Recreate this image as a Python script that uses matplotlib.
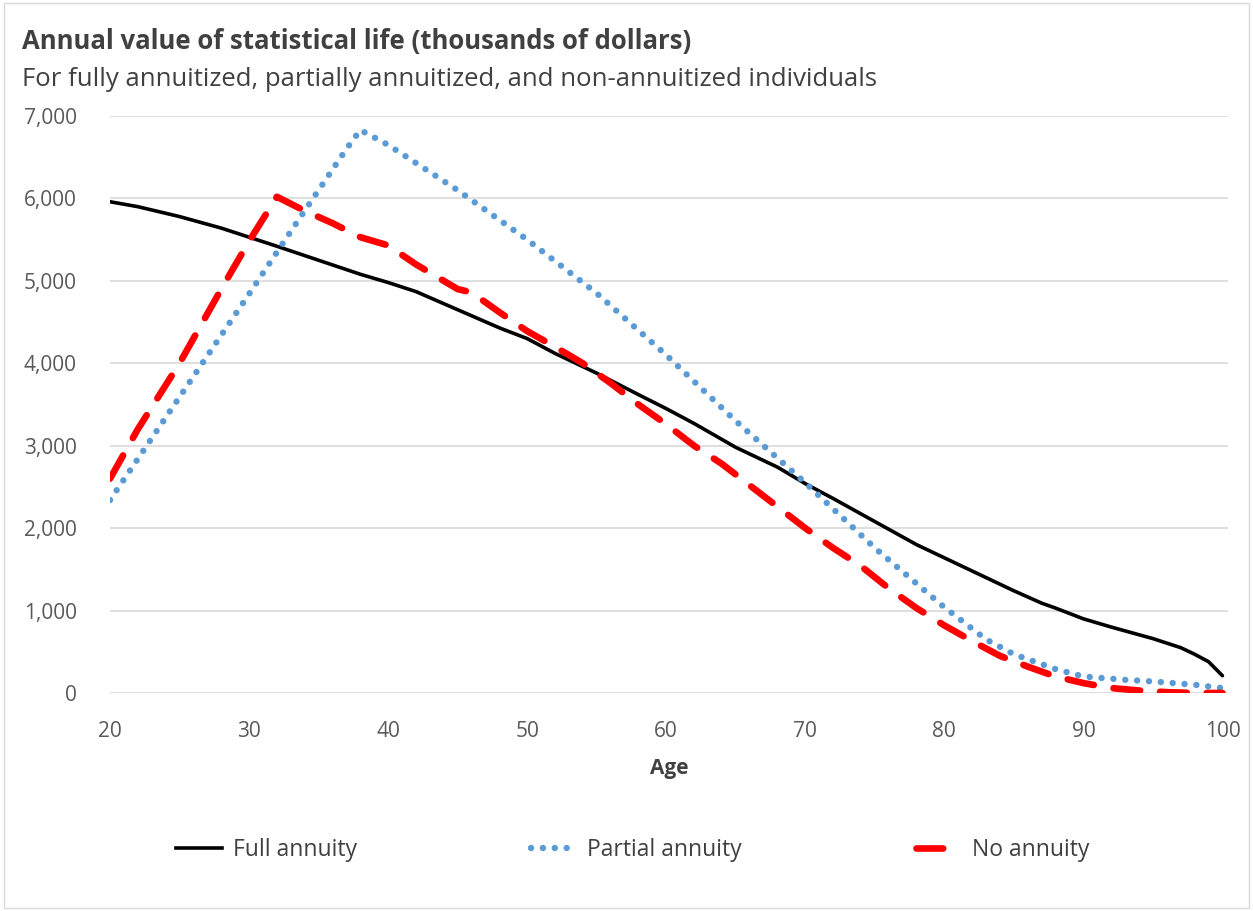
import matplotlib
matplotlib.use("Agg")
from matplotlib import pyplot as plt
from matplotlib.lines import Line2D

# data (thousands of dollars)
full_age = [20, 22, 25, 28, 30, 32, 35, 38, 40, 42, 45, 48, 50, 52, 55, 58, 60, 62, 65, 68, 70,
            72, 75, 78, 80, 82, 85, 87, 88, 90, 92, 95, 97, 98, 99, 100]
full_val = [5960, 5900, 5780, 5640, 5530, 5420, 5250, 5080, 4980, 4870, 4650, 4430, 4300, 4120,
            3880, 3620, 3450, 3270, 2980, 2740, 2540, 2360, 2080, 1800, 1640, 1480, 1240, 1090,
            1030, 900, 800, 660, 550, 470, 380, 210]

partial_age = [20, 25, 30, 33, 35, 37, 38, 40, 45, 50, 55, 60, 65, 70, 75, 80, 83, 85, 88, 90,
               93, 95, 98, 100]
partial_val = [2340, 3590, 4840, 5600, 6100, 6600, 6830, 6650, 6100, 5500, 4850, 4100, 3300,
               2550, 1760, 1040, 650, 470, 290, 200, 160, 140, 100, 60]

none_age = [20, 22, 25, 28, 30, 32, 34, 36, 38, 40, 42, 44, 45, 46, 48, 50, 52, 54, 56, 58, 60,
            62, 64, 65, 66, 68, 70, 72, 74, 76, 78, 80, 82, 84, 86, 88, 90, 92, 94, 96, 98, 100]
none_val = [2600, 3200, 4000, 4900, 5480, 6020, 5850, 5700, 5530, 5430, 5200, 5000, 4900, 4860,
            4620, 4390, 4200, 4000, 3760, 3500, 3260, 3000, 2780, 2650, 2520, 2260, 2000, 1760,
            1540, 1270, 1030, 820, 630, 450, 320, 200, 120, 60, 30, 10, 0, 0]

x_ticks = [20, 30, 40, 50, 60, 70, 80, 90, 100]
y_ticks = [0, 1000, 2000, 3000, 4000, 5000, 6000, 7000]

plt.rcParams['font.family'] = ['Open Sans', 'DejaVu Sans']
txt = '#404040'
tick_col = '#595959'
blue = '#5B9BD5'
red = '#FF0000'

fig = plt.figure(figsize=(12.53, 9.11), dpi=100)
ax = fig.add_axes([110 / 1253, 1 - 693 / 911, (1228 - 110) / 1253, (693 - 116) / 911])

ax.plot(full_age, full_val, color='black', lw=2.6, solid_capstyle='round', zorder=3)
ax.plot(partial_age, partial_val, color=blue, lw=4.6, dashes=(0.01, 1.85),
        dash_capstyle='round', zorder=3)
ax.plot(none_age, none_val, color=red, lw=4.8, dashes=(4.0, 3.0),
        dash_capstyle='round', zorder=3)

ax.set_xlim(20, 100.4)
ax.set_ylim(0, 7000)
ax.set_xticks(x_ticks)
ax.set_yticks(y_ticks)
ax.set_yticklabels([f"{v:,}" for v in y_ticks])
ax.tick_params(length=0, labelsize=15, colors=tick_col)
ax.tick_params(axis='y', pad=24)
ax.tick_params(axis='x', pad=20)
ax.grid(axis='y', color='#d9d9d9', lw=1.2)
ax.set_axisbelow(True)
for s in ax.spines.values():
    s.set_visible(False)
ax.set_xlabel("Age", fontsize=15, fontweight='bold', color=txt, labelpad=12)

fig.text(22 / 1253, 1 - 42 / 911, "Annual value of statistical life (thousands of dollars)",
         fontsize=18.5, fontweight='bold', color=txt, va='center')
fig.text(22 / 1253, 1 - 79 / 911,
         "For fully annuitized, partially annuitized, and non-annuitized individuals",
         fontsize=18.5, color=txt, va='center')

handles = [
    Line2D([], [], color='black', lw=2.6),
    Line2D([], [], color=blue, lw=4.6, dashes=(0.01, 1.85), dash_capstyle='round'),
    Line2D([], [], color=red, lw=4.8, dashes=(4.0, 3.0), dash_capstyle='round'),
]
fig.legend(handles, ["Full annuity", "Partial annuity", "No annuity"],
           loc='center', bbox_to_anchor=(0.505, 1 - 850 / 911), ncol=3, frameon=False,
           fontsize=16.5, labelcolor=txt, columnspacing=7.6, handlelength=2.0, handletextpad=0.45)

# thin outer border like the source image
fig.patches.append(plt.Rectangle((0.003, 0.003), 0.994, 0.994, transform=fig.transFigure,
                                 fill=False, ec='#d9d9d9', lw=1))

plt.savefig("out.png", dpi=100)
